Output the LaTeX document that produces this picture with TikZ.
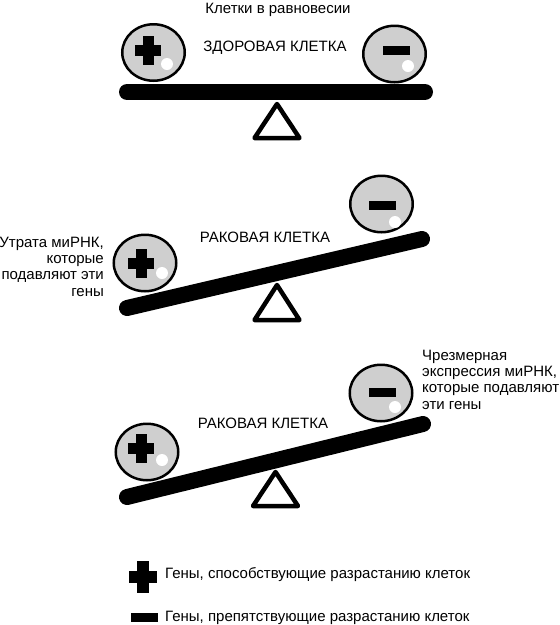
\documentclass[tikz,border=0pt]{standalone}
\usepackage{fontspec}
\setmainfont{Liberation Sans}
\usetikzlibrary{shapes.geometric}
\begin{document}
\begin{tikzpicture}[x=1pt,y=-1pt,
  cell/.style={ellipse,draw,line width=2.5pt,fill=black!19,minimum width=62.5pt,minimum height=56.5pt,inner sep=0pt},
  beam/.style={line width=16pt,line cap=round},
  fulcrum/.style={draw,line width=4.5pt,line join=round,fill=white},
  wdot/.style={circle,fill=white,inner sep=0pt,minimum size=12pt},
  lbl/.style={font=\fontsize{15}{16.2}\selectfont,inner sep=0pt},
  plusmark/.pic={\fill (-13,-5.5) rectangle (13,5.5); \fill (-5.5,-14.5) rectangle (5.5,14.5);},
  minusmark/.pic={\fill (-13.5,-4.5) rectangle (13.5,4.5);},
]
\useasboundingbox (0,0) rectangle (560,625);

% ---------- panel 1 ----------
\node[lbl,anchor=base] (title) at (278,13) {Клетки в равновесии};
\draw[fulcrum] (277,104) -- (299.5,138) -- (254.5,138) -- cycle;
\coordinate (b1l) at (127,92);
\coordinate (b1r) at (425,92);
\draw[beam] (b1l) -- (b1r);
\node[cell] (p1) at (153.5,52.5) {};
\pic at (148,50) {plusmark};
\node[wdot] (d1) at (167,64) {};
\node[cell] (m1) at (394.5,54) {};
\pic at (396.5,50.5) {minusmark};
\node[wdot] (d2) at (408,66) {};
\node[lbl,anchor=base] (healthy) at (275,51) {ЗДОРОВАЯ КЛЕТКА};

% ---------- panel 2 ----------
\draw[fulcrum] (277,285) -- (299.5,320) -- (254.5,320) -- cycle;
\coordinate (b2l) at (127,308);
\coordinate (b2r) at (422,239);
\draw[beam] (b2l) -- (b2r);
\node[cell] (p2) at (145,263) {};
\pic at (141,263) {plusmark};
\node[wdot] (d3) at (162,273) {};
\node[cell] (m2) at (381.5,204) {};
\pic at (382,205) {minusmark};
\node[wdot] (d4) at (395,222) {};
\node[lbl,anchor=base] (cancer1) at (265,242) {РАКОВАЯ КЛЕТКА};
\node[lbl,anchor=north east,align=right] (loss) at (104,237)
  {Утрата миРНК,\\которые\\подавляют эти\\гены};

% ---------- panel 3 ----------
\draw[fulcrum] (275.5,472) -- (298,506) -- (253,506) -- cycle;
\coordinate (b3l) at (127,497);
\coordinate (b3r) at (423,424);
\draw[beam] (b3l) -- (b3r);
\node[cell] (p3) at (147,452) {};
\pic at (141,448) {plusmark};
\node[wdot] (d5) at (162,460) {};
\node[cell] (m3) at (381,393) {};
\pic at (382,392) {minusmark};
\node[wdot] (d6) at (395,407) {};
\node[lbl,anchor=base] (cancer2) at (263,428) {РАКОВАЯ КЛЕТКА};
\node[lbl,anchor=north west,align=left] (over) at (422,350)
  {Чрезмерная\\экспрессия миРНК,\\которые подавляют\\эти гены};

% ---------- legend ----------
\pic[scale=1.08] at (143,577) {plusmark};
\node[lbl,anchor=base west] (leg1) at (165,578) {Гены, способствующие разрастанию клеток};
\pic at (144,617) {minusmark};
\node[lbl,anchor=base west] (leg2) at (165,621) {Гены, препятствующие разрастанию клеток};
\end{tikzpicture}
\end{document}
